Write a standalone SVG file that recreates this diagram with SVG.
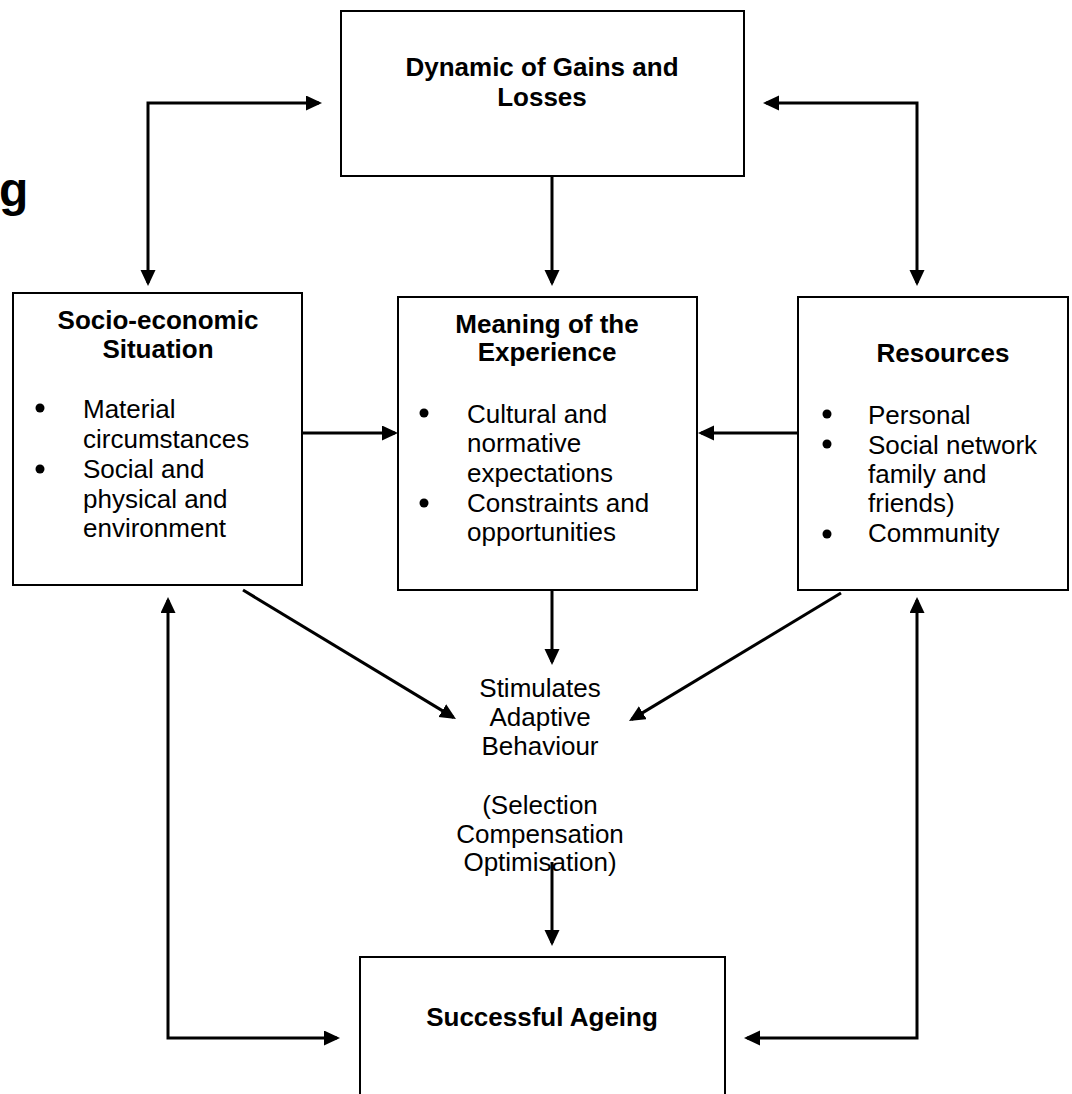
<svg xmlns="http://www.w3.org/2000/svg" width="1072" height="1094" viewBox="0 0 1072 1094">
<defs>
<style>
text{font-family:"Liberation Sans",Arial,sans-serif;font-size:26px;fill:#000}
.b{font-weight:bold}
.c{text-anchor:middle}
.box{fill:#fff;stroke:#000;stroke-width:2}
.con{fill:none;stroke:#000;stroke-width:3}
.dot{fill:#000}
</style>
<marker id="ah" markerUnits="userSpaceOnUse" markerWidth="16" markerHeight="16" viewBox="0 0 16 16" refX="13" refY="7.5" orient="auto-start-reverse">
<path d="M0,0 L16,7.5 L0,15 z" fill="#000"/>
</marker>
</defs>
<rect width="1072" height="1094" fill="#fff"/>
<text class="b" x="-1" y="206" style="font-size:48px">g</text>
<g id="connectors">
<path class="con" d="M148,283 V103 H319" marker-start="url(#ah)" marker-end="url(#ah)"/>
<path class="con" d="M766,103 H917 V283" marker-start="url(#ah)" marker-end="url(#ah)"/>
<path class="con" d="M552,176 V283" marker-end="url(#ah)"/>
<path class="con" d="M302,433 H395" marker-end="url(#ah)"/>
<path class="con" d="M798,433 H701" marker-end="url(#ah)"/>
<path class="con" d="M552,590 V662" marker-end="url(#ah)"/>
<path class="con" d="M243,590 L453.4,717.4" marker-end="url(#ah)"/>
<path class="con" d="M841,593 L631.6,719.4" marker-end="url(#ah)"/>
<path class="con" d="M552,862 V943" marker-end="url(#ah)"/>
<path class="con" d="M168,600 V1038 H337" marker-start="url(#ah)" marker-end="url(#ah)"/>
<path class="con" d="M917,600 V1038 H747" marker-start="url(#ah)" marker-end="url(#ah)"/>
</g>
<g id="dynamic">
<rect class="box" x="341" y="11" width="403" height="165"/>
<text class="b c" x="542" y="76">Dynamic of Gains and</text>
<text class="b c" x="542" y="106">Losses</text>
</g>
<g id="socio">
<rect class="box" x="13" y="293" width="289" height="292"/>
<text class="b c" x="158" y="329">Socio-economic</text>
<text class="b c" x="158" y="358">Situation</text>
<circle class="dot" cx="40" cy="408" r="4.5"/>
<circle class="dot" cx="40" cy="469" r="4.5"/>
<text x="83" y="418">Material</text>
<text x="83" y="448">circumstances</text>
<text x="83" y="478">Social and</text>
<text x="83" y="508">physical and</text>
<text x="83" y="537">environment</text>
</g>
<g id="meaning">
<rect class="box" x="398" y="297" width="299" height="293"/>
<text class="b c" x="547" y="333">Meaning of the</text>
<text class="b c" x="547" y="361">Experience</text>
<circle class="dot" cx="424" cy="413" r="4.5"/>
<circle class="dot" cx="424" cy="503" r="4.5"/>
<text x="467" y="423">Cultural and</text>
<text x="467" y="452">normative</text>
<text x="467" y="482">expectations</text>
<text x="467" y="512">Constraints and</text>
<text x="467" y="541">opportunities</text>
</g>
<g id="resources">
<rect class="box" x="798" y="297" width="270" height="293"/>
<text class="b c" x="943" y="362">Resources</text>
<circle class="dot" cx="827" cy="414" r="4.5"/>
<circle class="dot" cx="827" cy="444" r="4.5"/>
<circle class="dot" cx="827" cy="534" r="4.5"/>
<text x="868" y="424">Personal</text>
<text x="868" y="454">Social network</text>
<text x="868" y="483">family and</text>
<text x="868" y="512">friends)</text>
<text x="868" y="542">Community</text>
</g>
<g id="adaptive">
<text class="c" x="540" y="697">Stimulates</text>
<text class="c" x="540" y="726">Adaptive</text>
<text class="c" x="540" y="755">Behaviour</text>
<text class="c" x="540" y="814">(Selection</text>
<text class="c" x="540" y="843">Compensation</text>
<text class="c" x="540" y="871">Optimisation)</text>
</g>
<g id="successful">
<rect class="box" x="360" y="957" width="365" height="200"/>
<text class="b c" x="542" y="1026">Successful Ageing</text>
</g>
</svg>
